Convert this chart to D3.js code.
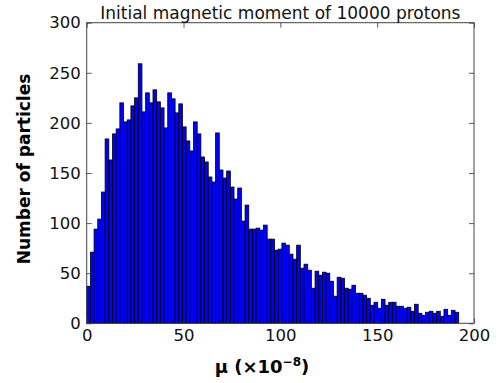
<!DOCTYPE html>
<html><head><meta charset="utf-8">
<script src="https://cdn.jsdelivr.net/npm/d3@7"></script>
<style>body{margin:0;background:#fff}svg{display:block}</style>
</head><body>
<script>
const counts = [37,71,94,104,131,184,163,189,194,220,
201,203,217,225,259,211,230,220,233,221,
215,195,230,224,210,219,196,182,172,201,
189,166,161,146,141,190,153,145,152,136,
124,135,102,118,94,94,95,93,98,84,
84,73,74,80,78,69,64,78,55,59,
53,35,52,48,51,50,42,27,46,45,
35,34,38,30,30,28,25,18,21,15,
24,18,21,21,17,17,15,16,12,19,
10,8,11,12,10,12,7,14,8,13,11];
const binStart = 0;
const binWidth = 1.902;
const xTicks = [0,50,100,150,200];
const yTicks = [0,50,100,150,200,250,300];
const title = "Initial magnetic moment of 10000 protons";
const yLabel = "Number of particles";

const W = 498, H = 383;
const L = 86.7, R = 474, T = 22.7, B = 323.3;
const svg = d3.select("body").append("svg").attr("width", W).attr("height", H);
const x = d3.scaleLinear().domain([0,200]).range([L,R]);
const y = d3.scaleLinear().domain([0,300]).range([B,T]);

svg.append("g").selectAll("rect").data(counts).join("rect")
  .attr("x", (d,i) => x(binStart + i*binWidth))
  .attr("width", (d,i) => x(binStart + (i+1)*binWidth) - x(binStart + i*binWidth))
  .attr("y", d => y(d))
  .attr("height", d => y(0) - y(d))
  .attr("fill", "#0000ff").attr("stroke", "#000").attr("stroke-width", 0.8);

const font = "DejaVu Sans, sans-serif";
function style(g){
  g.select(".domain").remove();
  g.selectAll(".tick line").attr("stroke","#333").attr("stroke-width",0.8);
  g.selectAll(".tick text").attr("font-family",font).attr("font-size","16.5px").attr("fill","#111");
}
svg.append("g").attr("transform",`translate(0,${B})`)
  .call(d3.axisBottom(x).tickValues(xTicks).tickSizeInner(-5).tickSizeOuter(0).tickPadding(6))
  .call(style);
svg.append("g").attr("transform",`translate(0,${T})`)
  .call(d3.axisTop(x).tickValues(xTicks).tickSizeInner(-5).tickSizeOuter(0).tickFormat(""))
  .call(style);
svg.append("g").attr("transform",`translate(${L},0)`)
  .call(d3.axisLeft(y).tickValues(yTicks).tickSizeInner(-5).tickSizeOuter(0).tickPadding(6))
  .call(style);
svg.append("g").attr("transform",`translate(${R},0)`)
  .call(d3.axisRight(y).tickValues(yTicks).tickSizeInner(-5).tickSizeOuter(0).tickFormat(""))
  .call(style);

svg.append("rect").attr("x",L).attr("y",T).attr("width",R-L).attr("height",B-T)
  .attr("fill","none").attr("stroke","#444").attr("stroke-width",1);

svg.append("text").attr("x",(L+R)/2).attr("y",18.5).attr("text-anchor","middle")
  .attr("font-family",font).attr("font-size","17px").attr("fill","#111").text(title);

svg.append("text").attr("transform",`translate(30,${(T+B)/2 - 4}) rotate(-90)`)
  .attr("text-anchor","middle").attr("font-family",font).attr("font-weight","bold")
  .attr("font-size","17px").text(yLabel);

const xl = svg.append("text").attr("x",262).attr("y",373).attr("text-anchor","middle")
  .attr("font-family",font).attr("font-weight","bold").attr("font-size","18px");
xl.append("tspan").text("μ (×10");
xl.append("tspan").attr("dy",-7).attr("font-size","12px").text("−8");
xl.append("tspan").attr("dy",7).text(")");
</script>
</body></html>
